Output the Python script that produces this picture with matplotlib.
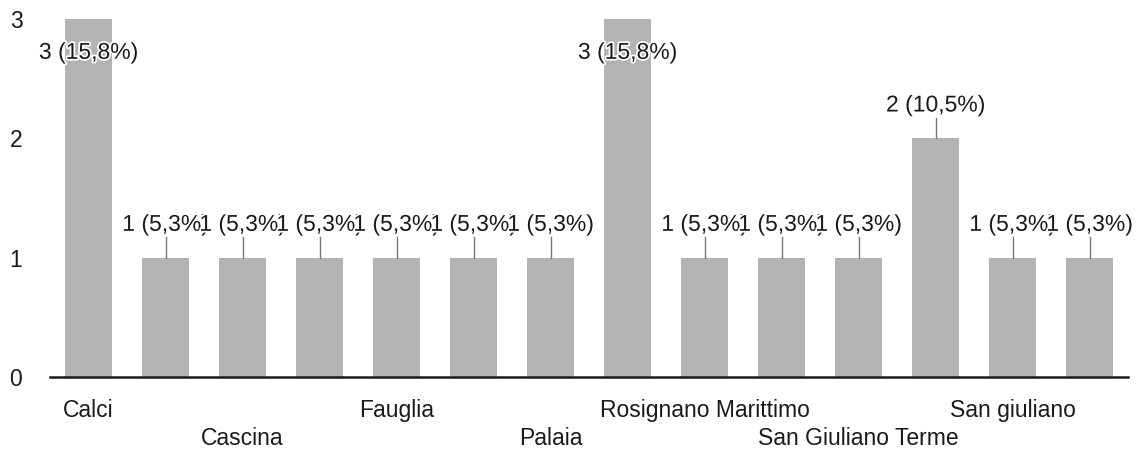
import matplotlib
matplotlib.use("Agg")
import matplotlib.pyplot as plt
import matplotlib.patheffects as pe

categories = ["Calci", "", "Cascina", "", "Fauglia", "", "Palaia", "",
              "Rosignano Marittimo", "", "San Giuliano Terme", "", "San giuliano", ""]
values = [3, 1, 1, 1, 1, 1, 1, 3, 1, 1, 1, 2, 1, 1]
percents = ["15,8%", "5,3%", "5,3%", "5,3%", "5,3%", "5,3%", "5,3%", "15,8%",
            "5,3%", "5,3%", "5,3%", "10,5%", "5,3%", "5,3%"]
yticks = [0, 1, 2, 3]

plt.rcParams['font.family'] = ['Liberation Sans', 'DejaVu Sans']
FS = 16.5
TC = "#1a1a1a"

fig = plt.figure(figsize=(11.38, 4.5), dpi=100)
ax = fig.add_axes([50/1138, 1 - 377/450, 1078/1138, (377-19)/450])

x = list(range(len(values)))
ax.bar(x, values, width=0.61, color="#b3b3b3", zorder=2)
ax.set_xlim(-0.5, len(values) - 0.5)
ax.set_ylim(0, 3)

for spine in ["top", "right", "left"]:
    ax.spines[spine].set_visible(False)
ax.spines["bottom"].set_color("#1a1a1a")
ax.spines["bottom"].set_linewidth(1.8)

ax.set_yticks(yticks)
ax.set_yticklabels([str(t) for t in yticks], fontsize=FS, color=TC)
ax.tick_params(axis="y", length=0, pad=0)
for lbl in ax.get_yticklabels():
    lbl.set_horizontalalignment("center")
    lbl.set_x(-34/1078)

ax.set_xticks(x)
ax.set_xticklabels([])
ax.tick_params(axis="x", length=0)
for i, name in enumerate(categories):
    if not name:
        continue
    row = (i // 2) % 2
    yoff = -24 if row == 0 else -44
    ax.annotate(name, (i, 0), xytext=(0, yoff), textcoords="offset points",
                ha="center", va="center", fontsize=FS, color=TC,
                annotation_clip=False)

halo = [pe.withStroke(linewidth=2.5, foreground="white")]
for i, (v, p) in enumerate(zip(values, percents)):
    txt = f"{v} ({p})"
    if v >= 3:
        ax.annotate(txt, (i, v), xytext=(0, -24), textcoords="offset points",
                    ha="center", va="center", fontsize=FS, color=TC,
                    path_effects=halo, zorder=4)
    else:
        ax.plot([i, i], [v, v + 0.17], color="#777777", lw=1, zorder=3)
        ax.annotate(txt, (i, v), xytext=(0, 24), textcoords="offset points",
                    ha="center", va="center", fontsize=FS, color=TC,
                    path_effects=halo, zorder=4)

fig.savefig("out.png", dpi=100, facecolor="white")
